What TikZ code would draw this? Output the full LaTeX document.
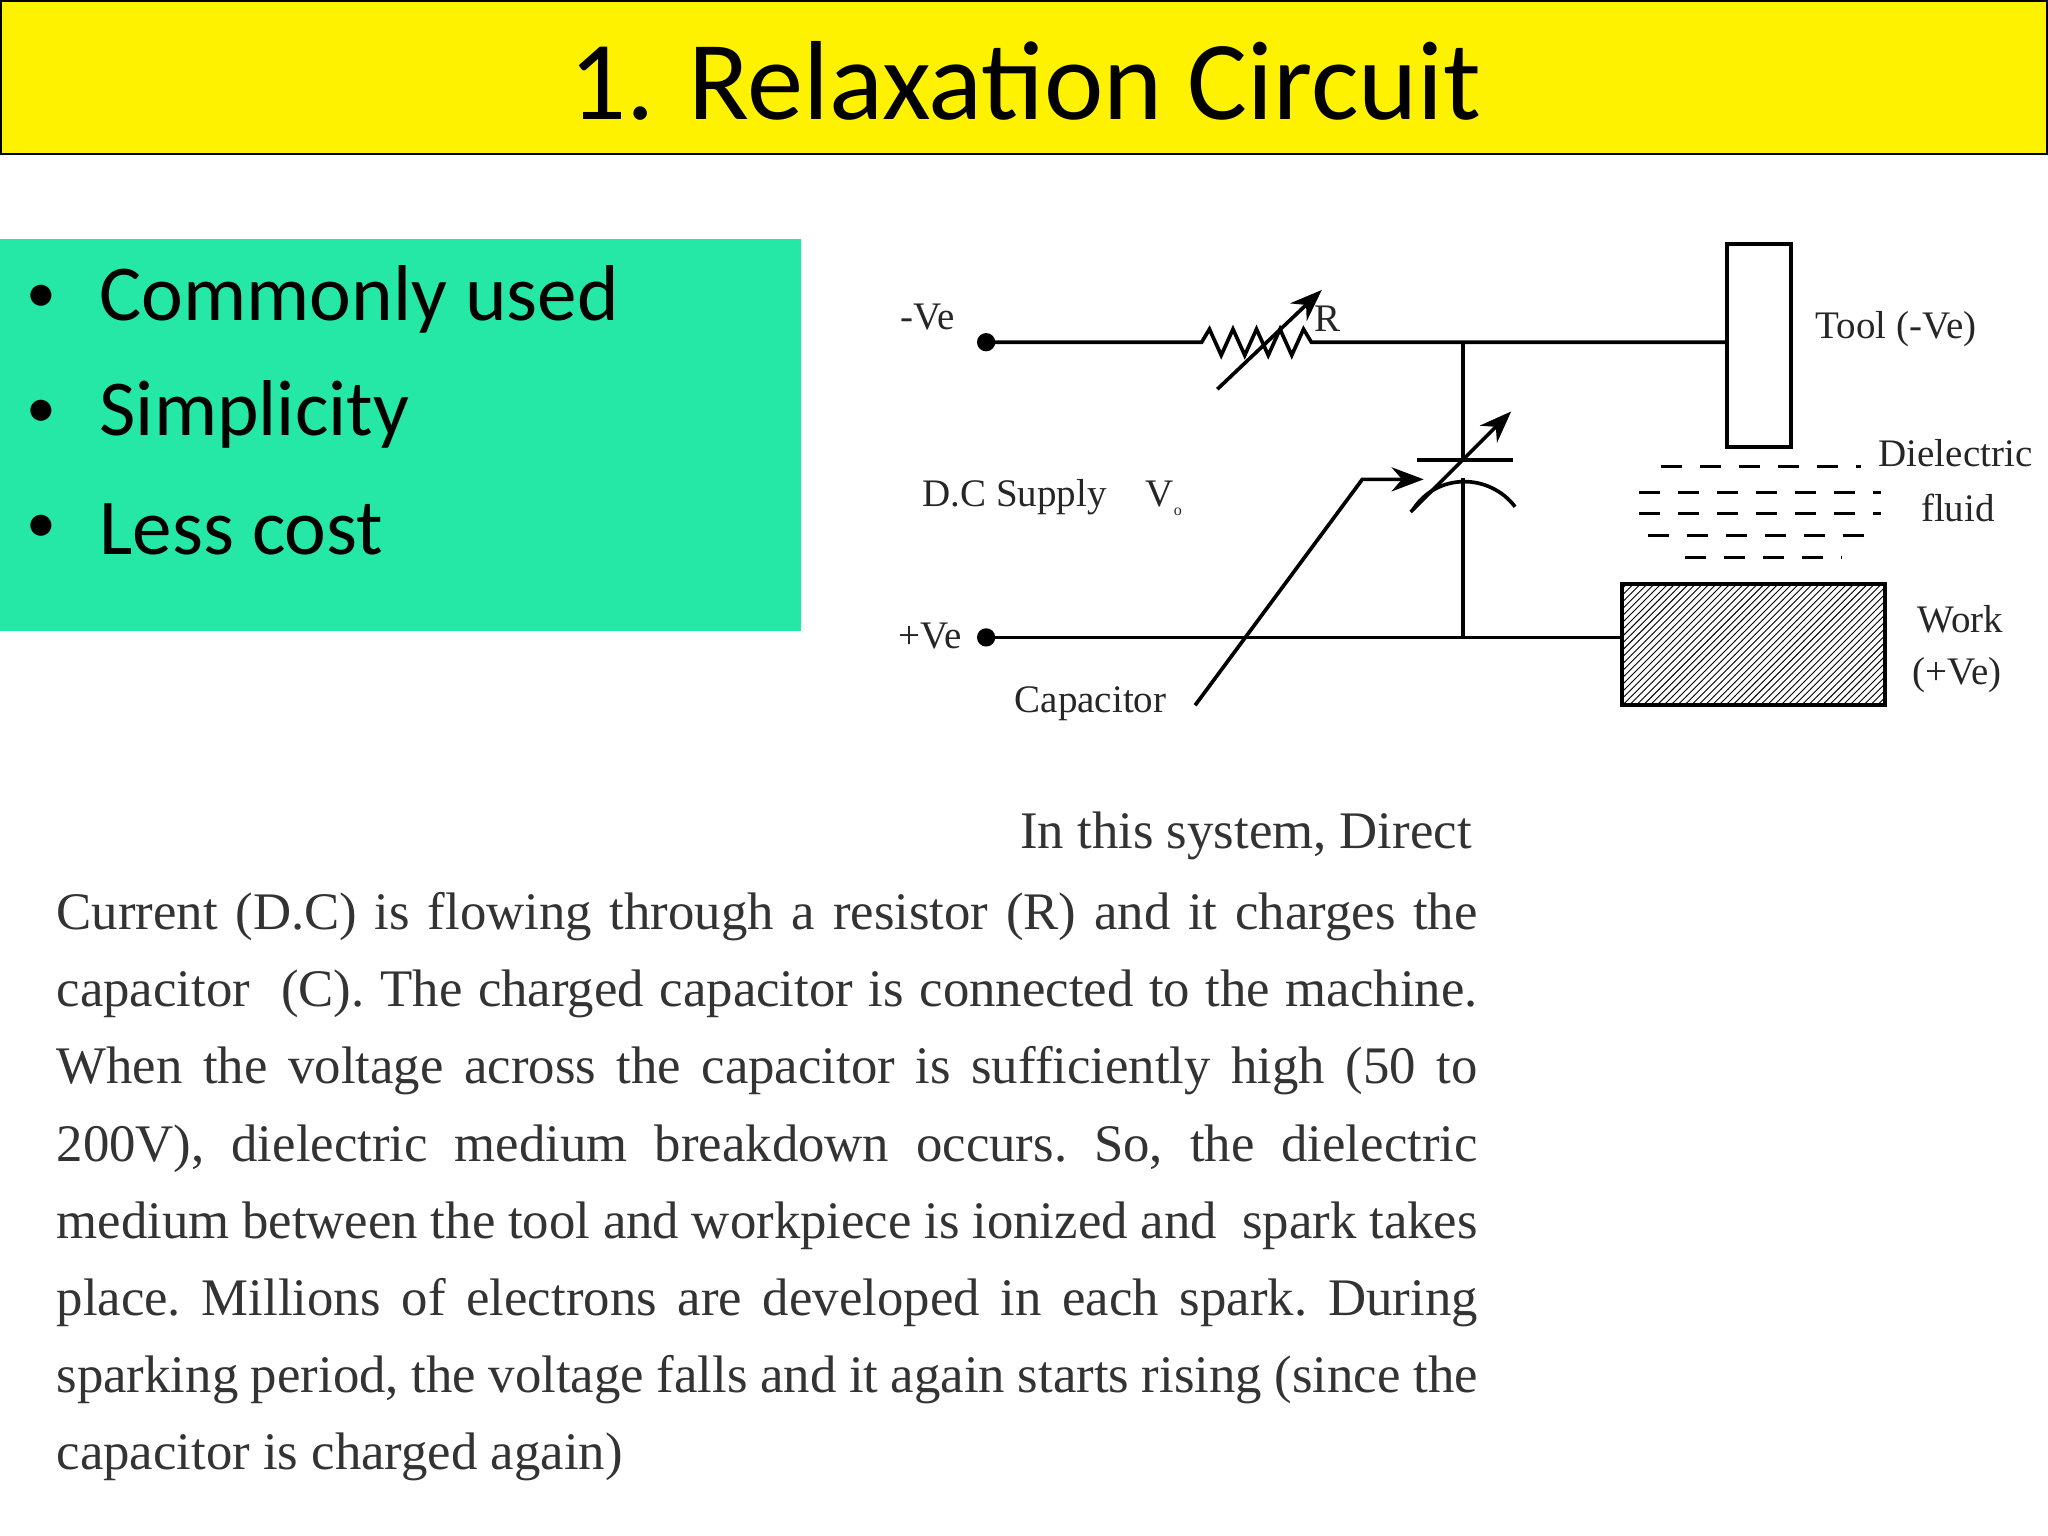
\documentclass[tikz,border=0pt]{standalone}
\usepackage{fontspec}
\setmainfont{Liberation Serif}
\newfontfamily\calfont{Carlito}
\usetikzlibrary{patterns,arrows.meta}
\begin{document}
\begin{tikzpicture}[x=0.02cm,y=-0.02cm,
  lbl/.style={font=\fontsize{17}{19}\selectfont, text=black!85},
  wire/.style={line width=1.6pt},
  dsh/.style={line width=1.4pt, dash pattern=on 9pt off 8pt}]
\useasboundingbox (0,0) rectangle (1568,1176);
\fill[white] (0,0) rectangle (1568,1176);
% title
\draw[fill=yellow, line width=1pt] (1,1) rectangle (1567,118);
\node (title) at (785,62) {\calfont\fontsize{49}{52}\selectfont 1. Relaxation Circuit};
% green box
\fill[fill={rgb,255:red,38;green,232;blue,166}] (0,183) rectangle (613,483);
\foreach \y/\t in {229/Commonly used, 317/Simplicity, 405/Less cost}{
  \node[anchor=west] at (14,\y) {\calfont\fontsize{26}{34}\selectfont \textbullet};
  \node[anchor=west] at (70,\y) {\calfont\fontsize{34.5}{36}\selectfont \t};
}
% circuit
\node[lbl] (mve) at (710,243) {-Ve};
\node[lbl] (pve) at (712,487) {+Ve};
\fill (755,262) circle (7);
\fill (755,488) circle (7);
\coordinate (a1) at (755,262);
\coordinate (b1) at (755,488);
\draw[wire] (a1) -- (920,262) -- (926,252) -- (935,272) -- (944,252) -- (953,272) -- (962,252) -- (971,272) -- (980,252) -- (989,272) -- (998,252) -- (1004,262) -- (1322,262);
\draw[wire,-{Stealth[length=14pt]}] (932,298) -- (1012,222);
\node[lbl] (R) at (1016,244) {R};
\draw[wire] (1322,187) rectangle (1371,342);
\node[lbl,anchor=west] (tool) at (1384,252) {Tool (-Ve)};
\draw[wire] (1120,262) -- (1120,352);
\draw[wire] (1085,352) -- (1158,352);
\draw[wire] (1082,390) .. controls (1100,362) and (1140,362) .. (1160,388);
\draw[wire] (1120,366) -- (1120,488);
\draw[wire,-{Stealth[length=14pt]}] (1080,392) -- (1157,315);
\draw[wire] (b1) -- (1242,488);
\draw[wire, pattern=north east lines] (1242,447) rectangle (1443,540);
\node[lbl,anchor=west] (work) at (1462,474) {Work};
\node[lbl,anchor=west] (workv) at (1458,517) {(+Ve)};
\draw[dsh] (1272,357) -- (1425,357);
\draw[dsh] (1255,377) -- (1440,377);
\draw[dsh] (1255,393) -- (1440,393);
\draw[dsh] (1262,410) -- (1435,410);
\draw[dsh] (1290,427) -- (1410,427);
\node[lbl,anchor=west] (diel) at (1432,347) {Dielectric};
\node[lbl] (fluid) at (1499,389) {fluid};
\node[lbl,anchor=west] (dc) at (700,381) {D.C Supply\quad V\raisebox{-0.5ex}{\scriptsize o}};
\node[lbl] (cap) at (835,539) {Capacitor};
\draw[wire,-{Stealth[length=14pt]}] (915,540) -- (1043,367) -- (1090,367);
% paragraph
\node[anchor=east, font=\fontsize{23}{24}\selectfont, text=black!80] (p0) at (1133,640) {In this system, Direct};
\node[anchor=north west, inner sep=0pt, text width=1088*0.02cm, align=justify,
  font=\fontsize{23}{33.6}\selectfont, text=black!80] (para) at (43,683) {\frenchspacing
Current (D.C) is flowing through a resistor (R) and it charges the\linebreak
capacitor\ \ (C). The charged capacitor is connected to the machine.\linebreak
When the voltage across the capacitor is sufficiently high (50 to\linebreak
200V), dielectric medium breakdown occurs. So, the dielectric\linebreak
medium between the tool and workpiece is ionized and\ \ spark takes\linebreak
place. Millions of electrons are developed in each spark. During\linebreak
sparking period, the voltage falls and it again starts rising (since the\linebreak
capacitor is charged again)};
\end{tikzpicture}
\end{document}
